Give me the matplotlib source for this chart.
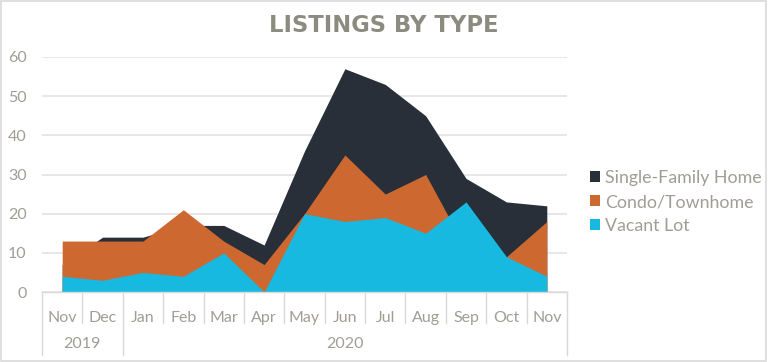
import matplotlib
matplotlib.use("Agg")
import matplotlib.pyplot as plt
import numpy as np

months = ["Nov", "Dec", "Jan", "Feb", "Mar", "Apr", "May", "Jun", "Jul", "Aug", "Sep", "Oct", "Nov"]
years = ["2019", "2020"]
year_spans = [(0, 1), (2, 12)]

single_family = [7, 14, 14, 17, 17, 12, 36, 57, 53, 45, 29, 23, 22]
condo = [13, 13, 13, 21, 13, 7, 20, 35, 25, 30, 11, 9, 18]
vacant = [4, 3, 5, 4, 10, 0, 20, 18, 19, 15, 23, 9, 4]

series = [
    ("Single-Family Home", single_family, "#292f38"),
    ("Condo/Townhome", condo, "#cc6830"),
    ("Vacant Lot", vacant, "#18b9e0"),
]

text_grey = "#a09d94"
title_grey = "#8c8b80"
grid_grey = "#e3e3e3"
font = "Lato"

fig = plt.figure(figsize=(7.68, 3.62), dpi=100)
fig.patches.append(plt.Rectangle((0.001, 0.002), 0.997, 0.995, transform=fig.transFigure,
                                 fill=False, edgecolor="#d9d9d9", linewidth=1.2))
ax = fig.add_axes([42 / 768, 70 / 362, 525 / 768, 235 / 362])

x = np.arange(len(months))
handles = []
for name, vals, color in series:
    h = ax.fill_between(x, 0, vals, color=color, linewidth=0, label=name, zorder=2)
    handles.append(h)

ax.set_xlim(-0.5, len(months) - 0.5)
ax.set_ylim(0, 60)
ax.set_yticks(range(0, 61, 10))
ax.yaxis.grid(True, color=grid_grey, linewidth=1.2, zorder=0)
ax.set_axisbelow(True)
for s in ["left", "right", "top"]:
    ax.spines[s].set_visible(False)
ax.spines["bottom"].set_color("#d9d9d9")
ax.spines["bottom"].set_linewidth(1.0)
ax.tick_params(axis="y", length=0, pad=11, labelsize=11.5, labelcolor=text_grey)
ax.set_yticklabels([str(v) for v in range(0, 61, 10)], fontfamily=font)

ax.set_xticks(x)
ax.set_xticklabels(months, fontfamily=font)
ax.tick_params(axis="x", length=0, pad=14, labelsize=11.5, labelcolor=text_grey)

trans = ax.get_xaxis_transform()
short = (292 - 323) / 235
long_ = (292 - 355) / 235
long_positions = {-0.5, 1.5, len(months) - 0.5}
for k in range(len(months) + 1):
    xp = -0.5 + k
    yb = long_ if xp in long_positions else short
    ax.plot([xp, xp], [0, yb], transform=trans, color="#d9d9d9", linewidth=1.0,
            clip_on=False, zorder=1)

for label, (a, b) in zip(years, year_spans):
    ax.text((a + b) / 2, (292 - 344) / 235, label, transform=trans, ha="center", va="center",
            fontsize=11.5, color=text_grey, fontfamily=font)

fig.text(384 / 768, 1 - 26 / 362, "LISTINGS BY TYPE", ha="center", va="center",
         fontsize=16.3, fontweight="bold", color=title_grey, fontfamily="DejaVu Sans")

leg = fig.legend(handles=handles, loc="center left", bbox_to_anchor=(574 / 768, 1 - 202 / 362),
                 frameon=False, handlelength=0.55, handleheight=0.55, handletextpad=0.3,
                 labelspacing=0.45, prop={"family": font, "size": 12.8})
for t in leg.get_texts():
    t.set_color(text_grey)

fig.savefig("out.png", dpi=100)
